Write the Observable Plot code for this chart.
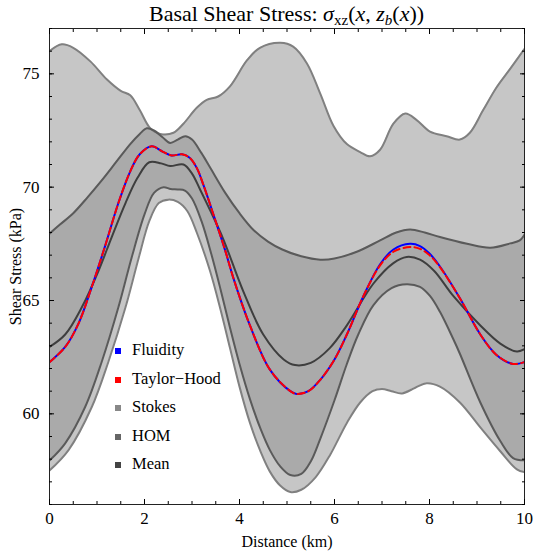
<!DOCTYPE html>
<html><head><meta charset="utf-8">
<script src="https://cdn.jsdelivr.net/npm/d3@7"></script>
<script src="https://cdn.jsdelivr.net/npm/@observablehq/plot@0.6"></script>
<style>
body{margin:0;background:#fff;font-family:"Liberation Serif","Times New Roman",serif;}
#wrap{position:relative;width:535px;height:551px;overflow:hidden;}
#title{height:27px;line-height:28px;font-size:22px;text-align:center;padding-left:49px;padding-right:11px;box-sizing:border-box;width:535px;white-space:nowrap;color:#000;font-family:"Liberation Serif","Times New Roman",serif;}
#title sub{font-size:15px;line-height:0;vertical-align:-4px;}
#title sub sub{font-size:13px;vertical-align:-2px;}
#chart svg text{font-family:"Liberation Serif","Times New Roman",serif !important;}
.sw{position:absolute;width:6px;height:6px;}
.lt{position:absolute;font-size:16.5px;line-height:20px;white-space:nowrap;color:#000;font-family:"Liberation Serif","Times New Roman",serif;}
</style></head>
<body>
<div id="wrap">
<div id="title">Basal Shear Stress: <i>σ</i><sub>xz</sub>(<i>x</i>, <i>z<sub>b</sub></i>(<i>x</i>))</div>
<div id="chart"></div>
</div>
<script>
// ---- data (kPa vs km) ----
const stokesUpX = [0, 0.26, 0.5, 0.86, 1.21, 1.5, 1.7, 1.9, 2.12, 2.33, 2.61, 2.82, 3.1, 3.31, 3.55, 3.8, 4.16, 4.43, 4.86, 5.13, 5.42, 5.7, 5.98, 6.26, 6.54, 6.75, 6.96, 7.24, 7.49, 7.73, 8.01, 8.36, 8.64, 8.85, 9.13, 9.41, 9.69, 10];
const stokesUp = [76.0, 76.3, 76.15, 75.55, 74.75, 74.25, 74.05, 73.4, 72.6, 72.35, 72.4, 72.8, 73.5, 73.85, 74.0, 74.45, 75.6, 76.15, 76.37, 76.2, 75.46, 74.13, 72.7, 71.9, 71.55, 71.36, 71.65, 72.8, 73.25, 72.96, 72.45, 72.25, 72.1, 72.4, 73.4, 74.4, 75.2, 76.1];

const stokesLoX = [0, 0.4, 0.89, 1.24, 1.6, 1.88, 2.1, 2.3, 2.5, 2.7, 2.9, 3.1, 3.38, 3.6, 3.8, 4.0, 4.22, 4.45, 4.64, 4.85, 5.07, 5.3, 5.6, 5.91, 6.26, 6.54, 6.8, 7.0, 7.2, 7.42, 7.7, 7.94, 8.22, 8.64, 9.07, 9.49, 9.84, 10];
const stokesLo = [57.5, 58.4, 60.3, 62.3, 64.7, 66.9, 68.5, 69.3, 69.45, 69.35, 68.95, 68.0, 66.3, 64.6, 62.9, 61.2, 59.6, 58.3, 57.45, 56.85, 56.55, 56.65, 57.2, 58.2, 59.6, 60.5, 61.0, 61.1, 61.0, 60.9, 61.15, 61.35, 61.2, 60.5, 59.4, 58.35, 57.55, 57.43];

const homUpX = [0, 0.22, 0.5, 0.8, 1.1, 1.4, 1.7, 1.9, 2.05, 2.2, 2.38, 2.54, 2.7, 2.86, 3.0, 3.2, 3.4, 3.7, 4.0, 4.3, 4.6, 4.9, 5.3, 5.7, 6.0, 6.47, 6.96, 7.3, 7.59, 7.9, 8.22, 8.79, 9.28, 9.7, 9.9, 10];
const homUp = [67.95, 68.35, 68.85, 69.55, 70.3, 71.1, 71.9, 72.35, 72.6, 72.5, 72.2, 71.95, 72.1, 72.25, 72.1, 71.5, 70.8, 69.75, 68.85, 68.1, 67.6, 67.25, 66.95, 66.8, 66.85, 67.15, 67.65, 68.0, 68.13, 68.0, 67.8, 67.5, 67.33, 67.52, 67.65, 67.9];

const homLoX = [0, 0.33, 0.75, 1.1, 1.45, 1.73, 2.0, 2.2, 2.4, 2.55, 2.7, 2.85, 3.0, 3.2, 3.4, 3.6, 3.8, 4.0, 4.22, 4.45, 4.64, 4.85, 5.07, 5.3, 5.5, 5.7, 6.0, 6.26, 6.5, 6.82, 7.2, 7.52, 7.8, 8.01, 8.22, 8.5, 8.64, 9.07, 9.49, 9.76, 10];
const homLo = [57.94, 58.7, 60.3, 62.3, 64.7, 66.9, 68.8, 69.75, 70.0, 69.92, 69.9, 69.85, 69.5, 68.5, 67.1, 65.5, 63.8, 62.2, 60.65, 59.3, 58.4, 57.7, 57.3, 57.35, 57.9, 58.9, 60.6, 62.2, 63.5, 64.8, 65.55, 65.72, 65.6, 65.2, 64.5, 63.3, 62.65, 60.5, 58.8, 58.05, 57.95];

const meanX = [0, 0.33, 0.68, 1.03, 1.31, 1.6, 1.85, 2.1, 2.35, 2.54, 2.82, 3.0, 3.17, 3.4, 3.66, 4.08, 4.5, 4.93, 5.17, 5.5, 5.9, 6.26, 6.82, 7.24, 7.52, 7.8, 8.1, 8.5, 9.07, 9.49, 9.84, 10];
const mean = [62.95, 63.5, 64.7, 66.3, 67.8, 69.3, 70.4, 71.1, 71.05, 70.93, 71.0, 70.6, 69.9, 68.9, 67.7, 65.4, 63.5, 62.4, 62.15, 62.25, 62.9, 63.9, 65.75, 66.65, 66.92, 66.8, 66.3, 65.2, 63.9, 63.1, 62.75, 62.85];

const fluidX = [0, 0.33, 0.61, 0.89, 1.17, 1.45, 1.7, 1.9, 2.15, 2.39, 2.57, 2.79, 2.95, 3.1, 3.24, 3.45, 3.7, 3.87, 4.22, 4.64, 5.07, 5.2, 5.45, 5.7, 6.0, 6.26, 6.61, 6.96, 7.24, 7.59, 7.8, 8.01, 8.22, 8.64, 9.07, 9.41, 9.76, 10];
const fluid = [62.28, 62.95, 63.98, 65.6, 67.4, 69.3, 70.7, 71.45, 71.8, 71.56, 71.4, 71.45, 71.3, 70.85, 70.1, 68.8, 67.2, 66.0, 63.9, 61.95, 61.0, 60.88, 61.0, 61.5, 62.4, 63.5, 65.2, 66.6, 67.25, 67.5, 67.4, 67.05, 66.5, 65.1, 63.5, 62.6, 62.2, 62.28];

const thX = [0, 0.33, 0.61, 0.89, 1.17, 1.45, 1.7, 1.9, 2.15, 2.39, 2.57, 2.79, 2.95, 3.1, 3.24, 3.45, 3.7, 3.87, 4.22, 4.64, 5.07, 5.2, 5.45, 5.7, 6.0, 6.26, 6.61, 6.96, 7.24, 7.59, 7.8, 8.01, 8.22, 8.64, 9.07, 9.41, 9.76, 10];
const th = [62.28, 62.95, 63.98, 65.6, 67.4, 69.3, 70.7, 71.45, 71.8, 71.56, 71.4, 71.45, 71.3, 70.85, 70.1, 68.8, 67.2, 66.0, 63.9, 61.95, 61.0, 60.88, 61.0, 61.5, 62.4, 63.5, 65.2, 66.55, 67.15, 67.36, 67.28, 66.98, 66.47, 65.1, 63.5, 62.6, 62.2, 62.28];

const xMajor = [0, 2, 4, 6, 8, 10];
const yMajor = [60, 65, 70, 75];
const xMinor = d3.range(0, 10.001, 0.5);
const yMinor = d3.range(56, 77.001, 1);

const legendLabels = ["Fluidity", "Taylor\u2212Hood", "Stokes", "HOM", "Mean"];
const legendColors = ["#0000ff", "#ff0000", "#888888", "#666666", "#444444"];

// ---- colors ----
const cLight = "#c6c6c6", cDark = "#aaaaaa", cStokes = "#808080", cHom = "#5a5a5a", cMean = "#3e3e3e";

const pts = (xs, ys) => xs.map((x, i) => ({x, y: ys[i]}));
const SU = pts(stokesUpX, stokesUp), SL = pts(stokesLoX, stokesLo);
const HU = pts(homUpX, homUp), HL = pts(homLoX, homLo);
const MN = pts(meanX, mean), FL = pts(fluidX, fluid), TH = pts(thX, th);
const curve = "catmull-rom";
const area = (d, fill) => Plot.areaY(d, {x: "x", y: "y", fill, curve, clip: true});
const line = (d, stroke, extra = {}) => Plot.line(d, {x: "x", y: "y", stroke, strokeWidth: 2, curve, clip: true, ...extra});
const font = '"Liberation Serif", "Times New Roman", serif';
const noText = () => "";

const chart = Plot.plot({
  width: 535, height: 524,
  marginTop: 1, marginBottom: 47, marginLeft: 49, marginRight: 11,
  x: {domain: [0, 10]},
  y: {domain: [56, 77]},
  style: {fontFamily: font, fontSize: "16px", color: "#000", background: "#fff", overflow: "visible"},
  marks: [
    area(SU, cLight),
    area(SL, "#fff"),
    area(HU, cDark),
    area(HL, cLight),
    area(SL, "#fff"),
    line(SU, cStokes),
    line(SL, cStokes),
    line(HU, cHom),
    line(HL, cHom),
    line(MN, cMean),
    line(FL, "#0000ff"),
    line(TH, "#ff0000", {strokeDasharray: "7,4"}),
    Plot.frame({stroke: "#222"}),
    Plot.axisX({anchor: "bottom", ticks: xMinor, tickSize: -3, tickFormat: noText, label: null}),
    Plot.axisX({anchor: "bottom", ticks: xMajor, tickSize: -5, tickFormat: noText, label: null}),
    Plot.axisX({anchor: "top", ticks: xMinor, tickSize: -3, tickFormat: noText, label: null}),
    Plot.axisX({anchor: "top", ticks: xMajor, tickSize: -5, tickFormat: noText, label: null}),
    Plot.axisX({anchor: "bottom", ticks: xMajor, tickSize: 0, tickPadding: 7, tickFormat: d => String(d), label: null, fontSize: 17, fontFamily: font}),
    Plot.axisY({anchor: "left", ticks: yMinor, tickSize: -3, tickFormat: noText, label: null}),
    Plot.axisY({anchor: "left", ticks: yMajor, tickSize: -5, tickFormat: noText, label: null}),
    Plot.axisY({anchor: "right", ticks: yMinor, tickSize: -3, tickFormat: noText, label: null}),
    Plot.axisY({anchor: "right", ticks: yMajor, tickSize: -5, tickFormat: noText, label: null}),
    Plot.axisY({anchor: "left", ticks: yMajor, tickSize: 0, tickPadding: 10, tickFormat: d => String(d), label: null, fontSize: 17, fontFamily: font}),
    Plot.text(["Distance (km)"], {frameAnchor: "bottom", dy: 37, lineAnchor: "middle", textAnchor: "middle", fontSize: 16, fontFamily: font}),
    Plot.text(["Shear Stress (kPa)"], {frameAnchor: "left", dx: -34, rotate: -90, lineAnchor: "middle", textAnchor: "middle", fontSize: 16, fontFamily: font})
  ]
});
document.getElementById("chart").appendChild(chart);

// legend (inside plot area)
const wrap = document.getElementById("wrap");
legendLabels.forEach((lab, i) => {
  const cy = 351 + i * 28.5;
  const sw = document.createElement("div");
  sw.className = "sw";
  sw.style.left = "115px"; sw.style.top = (cy - 3) + "px"; sw.style.background = legendColors[i];
  wrap.appendChild(sw);
  const t = document.createElement("div");
  t.className = "lt";
  t.style.left = "132px"; t.style.top = (cy - 11) + "px";
  t.textContent = lab;
  wrap.appendChild(t);
});
</script>
</body></html>
